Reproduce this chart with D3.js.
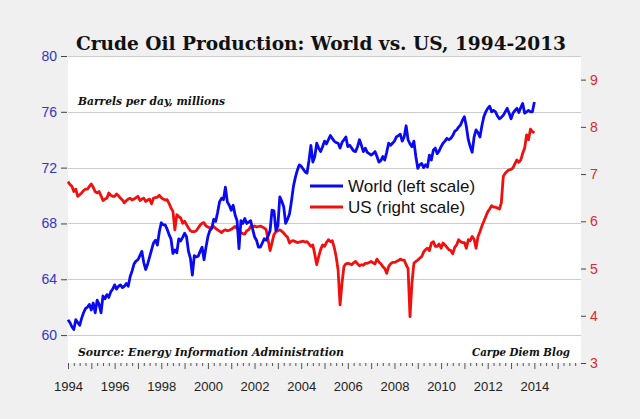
<!DOCTYPE html>
<html>
<head>
<meta charset="utf-8">
<script src="https://cdn.jsdelivr.net/npm/d3@7"></script>
<style>
  html, body { margin: 0; padding: 0; background: #f0f0f0; }
  svg { display: block; }
</style>
</head>
<body>
<svg id="chart" width="640" height="419"></svg>
<script>
// ---------------- DATA (monthly, Jan 1994 .. Jan 2014) ----------------
const startYear = 1994;
const seriesNames = ["World (left scale)", "US (right scale)"];

// World crude oil production, million barrels per day (left scale)
const worldValues = [
  61.1, 60.9, 60.6, 60.4, 61.1, 60.9, 60.7, 61.2, 61.6, 61.9, 62.0, 62.2,   // 1994
  61.8, 62.3, 61.6, 62.5, 62.2, 61.6, 62.8, 62.6, 62.9, 62.7, 63.1, 63.3,   // 1995
  63.6, 63.3, 63.5, 63.6, 63.4, 63.5, 63.7, 63.5, 64.2, 64.6, 65.1, 65.3,   // 1996
  65.4, 65.7, 66.0, 65.2, 64.7, 65.1, 65.6, 66.1, 66.6, 66.8, 66.45, 67.4,  // 1997
  68.05, 67.9, 67.9, 67.6, 67.2, 66.9, 65.85, 66.1, 65.9, 66.9, 66.75, 67.0,// 1998
  67.3, 67.05, 66.0, 65.5, 64.3, 65.7, 65.6, 65.65, 66.0, 66.3, 65.4, 66.3, // 1999
  67.05, 67.5, 67.65, 68.3, 68.15, 68.8, 69.55, 69.8, 69.7, 70.6, 69.55, 69.3, // 2000
  68.95, 69.3, 68.6, 68.2, 66.2, 68.2, 68.0, 68.35, 68.0, 68.1, 68.2, 67.6, // 2001
  67.05, 66.8, 66.3, 66.3, 66.6, 66.9, 66.8, 67.1, 67.5, 68.95, 68.9, 67.5, // 2002
  67.8, 69.9, 69.6, 69.2, 68.0, 68.3, 68.7, 69.6, 70.65, 71.3, 71.8, 72.2,  // 2003
  72.1, 71.9, 71.7, 71.6, 72.5, 73.6, 72.4, 72.8, 73.75, 73.4, 73.15, 73.5, // 2004
  73.9, 73.7, 74.0, 74.3, 74.1, 73.9, 73.8, 73.75, 73.4, 73.8, 74.0, 74.2,  // 2005
  73.5, 73.6, 73.4, 73.2, 73.15, 73.5, 74.0, 73.6, 73.15, 73.4, 73.1, 73.0, // 2006
  72.9, 73.0, 73.15, 72.8, 72.4, 72.5, 72.8, 72.55, 73.1, 73.75, 73.6, 73.75, // 2007
  73.9, 74.2, 74.3, 74.4, 73.9, 74.2, 75.0, 74.0, 73.7, 73.5, 73.9, 72.8,   // 2008
  71.95, 72.2, 72.3, 72.0, 72.2, 72.05, 72.9, 72.55, 73.25, 73.4, 73.0, 73.2, // 2009
  73.5, 73.75, 73.9, 74.1, 74.0, 74.1, 74.3, 74.6, 74.7, 74.9, 75.05, 75.4, // 2010
  75.65, 74.95, 74.0, 73.5, 73.1, 74.2, 74.7, 74.5, 74.2, 75.0, 75.65, 76.0, // 2011
  76.25, 76.4, 76.0, 76.1, 76.0, 75.7, 75.5, 75.6, 75.75, 76.0, 76.25, 75.9, // 2012
  75.5, 75.9, 76.1, 76.25, 75.95, 76.3, 76.6, 75.9, 76.0, 76.1, 76.0, 76.0, // 2013
  76.7                                                                       // 2014
];

// US crude oil production, million barrels per day (right scale)
const usValues = [
  6.84, 6.78, 6.74, 6.63, 6.68, 6.53, 6.56, 6.60, 6.65, 6.68, 6.68, 6.74,   // 1994
  6.79, 6.72, 6.63, 6.60, 6.63, 6.54, 6.44, 6.47, 6.49, 6.60, 6.55, 6.53,   // 1995
  6.53, 6.58, 6.54, 6.49, 6.45, 6.39, 6.44, 6.47, 6.49, 6.45, 6.47, 6.50,   // 1996
  6.53, 6.44, 6.47, 6.49, 6.42, 6.45, 6.47, 6.37, 6.49, 6.50, 6.51, 6.55,   // 1997
  6.50, 6.47, 6.45, 6.46, 6.38, 6.28, 6.21, 5.82, 6.14, 6.10, 6.07, 5.96,   // 1998
  6.00, 5.93, 5.86, 5.80, 5.78, 5.78, 5.80, 5.86, 5.92, 5.96, 5.97, 5.90,   // 1999
  5.88, 5.86, 5.87, 5.89, 5.85, 5.82, 5.79, 5.76, 5.80, 5.82, 5.80, 5.81,   // 2000
  5.83, 5.86, 5.89, 5.85, 5.80, 5.76, 5.74, 5.73, 5.80, 5.82, 5.89, 5.88,   // 2001
  5.90, 5.88, 5.89, 5.90, 5.88, 5.86, 5.82, 5.60, 5.38, 5.55, 5.72, 5.78,   // 2002
  5.80, 5.82, 5.79, 5.75, 5.70, 5.66, 5.54, 5.58, 5.59, 5.57, 5.55, 5.56,   // 2003
  5.57, 5.58, 5.56, 5.57, 5.52, 5.47, 5.50, 5.30, 5.08, 5.25, 5.40, 5.50,   // 2004
  5.47, 5.55, 5.61, 5.57, 5.59, 5.45, 5.25, 4.97, 4.23, 4.69, 5.04, 5.10,   // 2005
  5.11, 5.10, 5.08, 5.12, 5.15, 5.10, 5.06, 5.08, 5.07, 5.11, 5.11, 5.13,   // 2006
  5.15, 5.12, 5.10, 5.20, 5.14, 5.10, 5.04, 5.00, 4.90, 5.04, 5.10, 5.13,   // 2007
  5.13, 5.15, 5.17, 5.20, 5.18, 5.18, 5.08, 5.00, 3.98, 4.69, 5.11, 5.15,   // 2008
  5.18, 5.22, 5.25, 5.35, 5.40, 5.43, 5.38, 5.54, 5.57, 5.47, 5.47, 5.52,   // 2009
  5.43, 5.54, 5.50, 5.45, 5.40, 5.38, 5.31, 5.45, 5.50, 5.61, 5.57, 5.55,   // 2010
  5.55, 5.43, 5.61, 5.59, 5.68, 5.62, 5.43, 5.68, 5.78, 5.90, 6.00, 6.10,   // 2011
  6.20, 6.26, 6.33, 6.30, 6.30, 6.28, 6.26, 6.39, 6.95, 7.02, 7.06, 7.09,   // 2012
  7.10, 7.13, 7.22, 7.30, 7.25, 7.30, 7.44, 7.55, 7.83, 7.73, 7.95, 7.90,   // 2013
  7.87                                                                       // 2014
];

const leftTicks = [60, 64, 68, 72, 76, 80];
const rightTicks = [3, 4, 5, 6, 7, 8, 9];
const yearLabels = [1994, 1996, 1998, 2000, 2002, 2004, 2006, 2008, 2010, 2012, 2014];

const titleText = "Crude Oil Production: World vs. US, 1994-2013";
const unitText = "Barrels per day, millions";
const sourceText = "Source: Energy Information Administration";
const blogText = "Carpe Diem Blog";

// ---------------- LAYOUT ----------------
const W = 640, H = 419;
const plot = { left: 68, right: 581, top: 56, bottom: 363 };
const blue = "#0a0af0", red = "#f01010";

const svg = d3.select("#chart");

svg.append("rect").attr("width", W).attr("height", H).attr("fill", "#f0f0f0");
svg.append("rect")
  .attr("x", plot.left).attr("y", plot.top)
  .attr("width", plot.right - plot.left).attr("height", plot.bottom - plot.top)
  .attr("fill", "#ffffff");

const x = d3.scaleLinear().domain([1994, 2016]).range([plot.left, plot.right]);
const yL = d3.scaleLinear().domain([58, 80]).range([plot.bottom, plot.top]);
const yR = d3.scaleLinear().domain([3, 9.5]).range([plot.bottom, plot.top]);

// gridlines
svg.append("g").selectAll("line").data(leftTicks).join("line")
  .attr("x1", plot.left).attr("x2", plot.right)
  .attr("y1", d => Math.round(yL(d)) + 0.5).attr("y2", d => Math.round(yL(d)) + 0.5)
  .attr("stroke", "#cccccc").attr("stroke-width", 1);

// left axis
const leftAxis = svg.append("g")
  .attr("transform", `translate(${plot.left - 1},0)`)
  .call(d3.axisLeft(yL).tickValues(leftTicks).tickSize(6).tickPadding(4).tickFormat(d3.format("d")));
leftAxis.select(".domain").remove();
leftAxis.selectAll("line").attr("stroke", "#444");
leftAxis.selectAll("text")
  .attr("fill", "#3434c8").style("font-family", "'Liberation Sans', Arial, sans-serif")
  .style("font-size", "14px");

// right axis
const rightAxis = svg.append("g")
  .attr("transform", `translate(${plot.right},0)`)
  .call(d3.axisRight(yR).tickValues(rightTicks).tickSize(5).tickPadding(4).tickFormat(d3.format("d")));
rightAxis.select(".domain").remove();
rightAxis.selectAll("line").attr("stroke", "#444");
rightAxis.selectAll("text")
  .attr("fill", "#e02828").style("font-family", "'Liberation Sans', Arial, sans-serif")
  .style("font-size", "14px");

// bottom axis: quarterly minor ticks, yearly major ticks
const minorTicks = d3.range(1994, 2016, 0.25).filter(v => Math.abs(v - Math.round(v)) > 0.01);
const majorTicks = d3.range(1994, 2016, 1);
const bMinor = svg.append("g").attr("transform", `translate(0,${plot.bottom})`)
  .call(d3.axisBottom(x).tickValues(minorTicks).tickSize(3).tickFormat(""));
bMinor.select(".domain").remove();
bMinor.selectAll("line").attr("stroke", "#555");
const bMajor = svg.append("g").attr("transform", `translate(0,${plot.bottom})`)
  .call(d3.axisBottom(x).tickValues(majorTicks).tickSize(6).tickFormat(""));
bMajor.select(".domain").remove();
bMajor.selectAll("line").attr("stroke", "#555");
const bLabels = svg.append("g").attr("transform", `translate(0,${plot.bottom})`)
  .call(d3.axisBottom(x).tickValues(yearLabels).tickSize(0).tickPadding(19).tickFormat(d3.format("d")));
bLabels.select(".domain").remove();
bLabels.selectAll("text")
  .attr("fill", "#222").style("font-family", "'Liberation Sans', Arial, sans-serif")
  .style("font-size", "13px");

// lines
const dateOf = i => startYear + i / 12;
const lineW = d3.line().x((d, i) => x(dateOf(i))).y(d => yL(d));
const lineU = d3.line().x((d, i) => x(dateOf(i))).y(d => yR(d));

svg.append("path").datum(usValues).attr("d", lineU)
  .attr("fill", "none").attr("stroke", red).attr("stroke-width", 2.8)
  .attr("stroke-linejoin", "round");
svg.append("path").datum(worldValues).attr("d", lineW)
  .attr("fill", "none").attr("stroke", blue).attr("stroke-width", 2.8)
  .attr("stroke-linejoin", "round");

// legend
const legend = svg.append("g").attr("transform", "translate(310,186)");
[blue, red].forEach((c, i) => {
  legend.append("line").attr("x1", 0).attr("x2", 33)
    .attr("y1", i * 21).attr("y2", i * 21)
    .attr("stroke", c).attr("stroke-width", 3);
  legend.append("text").attr("x", 38).attr("y", i * 21 + 6)
    .text(seriesNames[i])
    .style("font-family", "'Liberation Sans', Arial, sans-serif")
    .style("font-size", "17px").attr("fill", "#111");
});

// texts
svg.append("text").attr("x", 321).attr("y", 50).attr("text-anchor", "middle")
  .attr("textLength", 490).attr("lengthAdjust", "spacingAndGlyphs")
  .style("font-family", "'DejaVu Serif', 'Liberation Serif', serif")
  .style("font-weight", "bold").style("font-size", "19px").attr("fill", "#111")
  .text(titleText);

svg.append("text").attr("x", 78).attr("y", 105)
  .attr("textLength", 147).attr("lengthAdjust", "spacingAndGlyphs")
  .style("font-family", "'DejaVu Serif', 'Liberation Serif', serif")
  .style("font-weight", "bold").style("font-style", "italic").style("font-size", "11.5px")
  .attr("fill", "#111").text(unitText);

svg.append("text").attr("x", 78).attr("y", 356)
  .attr("textLength", 266).attr("lengthAdjust", "spacingAndGlyphs")
  .style("font-family", "'DejaVu Serif', 'Liberation Serif', serif")
  .style("font-weight", "bold").style("font-style", "italic").style("font-size", "11.5px")
  .attr("fill", "#111").text(sourceText);

svg.append("text").attr("x", 570).attr("y", 356).attr("text-anchor", "end")
  .attr("textLength", 98).attr("lengthAdjust", "spacingAndGlyphs")
  .style("font-family", "'DejaVu Serif', 'Liberation Serif', serif")
  .style("font-weight", "bold").style("font-style", "italic").style("font-size", "11.5px")
  .attr("fill", "#111").text(blogText);
</script>
</body>
</html>
